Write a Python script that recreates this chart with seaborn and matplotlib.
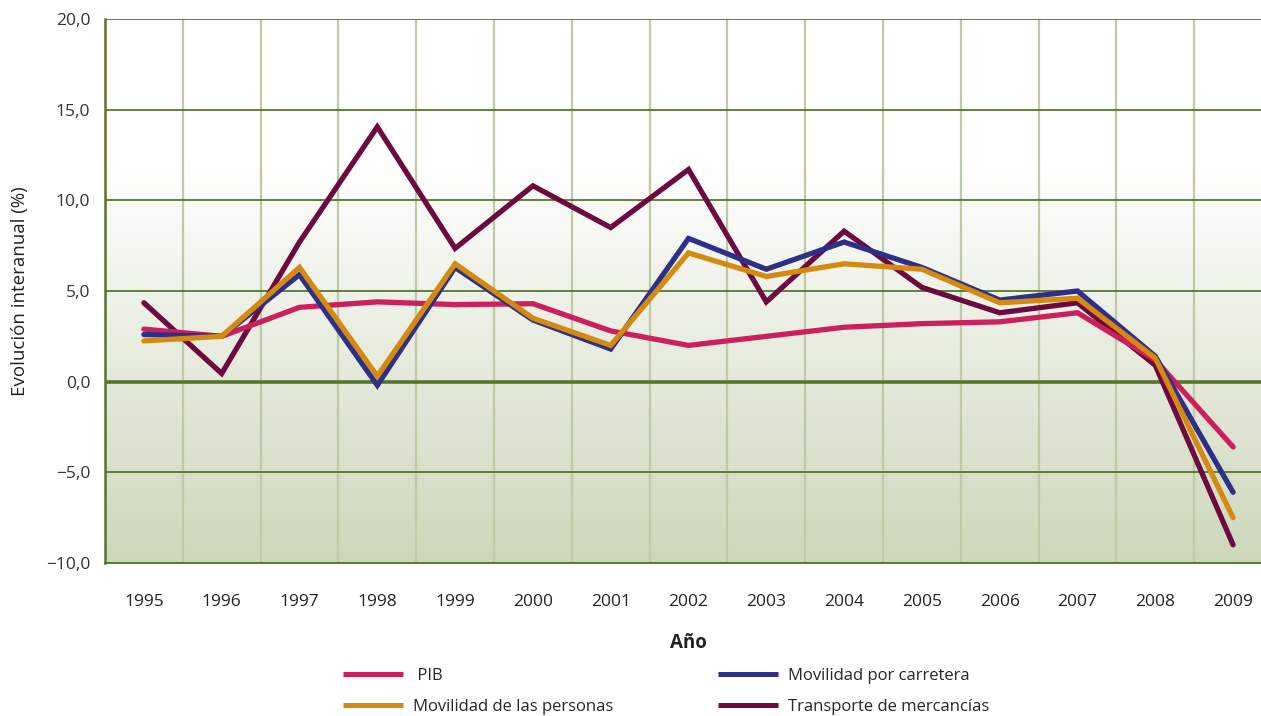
import numpy as np
import pandas as pd
import matplotlib
matplotlib.use("Agg")
import matplotlib.pyplot as plt
from matplotlib.colors import LinearSegmentedColormap
from matplotlib.ticker import FixedLocator, FuncFormatter
from matplotlib.lines import Line2D
import seaborn as sns

# -------------------
# Data
# -------------------
years = ["1995", "1996", "1997", "1998", "1999", "2000", "2001", "2002",
         "2003", "2004", "2005", "2006", "2007", "2008", "2009"]
pib = [2.9, 2.5, 4.1, 4.4, 4.25, 4.3, 2.8, 2.0, 2.5, 3.0, 3.2, 3.3, 3.8, 1.2, -3.6]
carretera = [2.6, 2.5, 5.9, -0.2, 6.3, 3.4, 1.8, 7.9, 6.2, 7.7, 6.3, 4.5, 5.0, 1.4, -6.1]
personas = [2.25, 2.5, 6.3, 0.3, 6.5, 3.5, 2.0, 7.1, 5.8, 6.5, 6.2, 4.35, 4.6, 1.3, -7.5]
mercancias = [4.35, 0.45, 7.7, 14.05, 7.35, 10.8, 8.5, 11.7, 4.4, 8.3, 5.2, 3.8, 4.35, 0.9, -9.0]

series = {
    "PIB": pib,
    "Movilidad por carretera": carretera,
    "Movilidad de las personas": personas,
    "Transporte de mercancías": mercancias,
}
colors = {
    "PIB": "#cc1f5c",
    "Movilidad por carretera": "#2e2f88",
    "Movilidad de las personas": "#d4890f",
    "Transporte de mercancías": "#6c0a40",
}

df = pd.DataFrame({"pos": np.arange(len(years))})
for k, v in series.items():
    df[k] = v

# -------------------
# Figure
# -------------------
sns.set_style("white")
plt.rcParams["font.family"] = ["Open Sans", "DejaVu Sans"]

fig = plt.figure(figsize=(12.61, 7.16), dpi=100)
ax = fig.add_axes([105 / 1261, 1 - 563 / 716, 1167 / 1261, 544 / 716])

ax.set_xlim(-0.5, len(years) - 0.5)
ax.set_ylim(-10, 20)

# background gradient
grad_cmap = LinearSegmentedColormap.from_list("bg", ["#ccd7bb", "#ffffff"])
yy = np.linspace(-10, 20, 300)
vals = np.clip((yy + 10) / 22.0, 0, 1)[:, None]
ax.imshow(vals, cmap=grad_cmap, aspect="auto", origin="lower",
          extent=[-0.5, len(years) - 0.5, -10, 20], zorder=0, vmin=0, vmax=1)

# grid
for b in np.arange(-0.5, len(years), 1.0):
    ax.axvline(b, color="#bccaa5", lw=1.6, zorder=1)
for yv in range(-10, 21, 5):
    ax.axhline(yv, color="#56752b", lw=2.6 if yv == 0 else 1.3, zorder=1)

# lines
zorders = {"Transporte de mercancías": 3, "PIB": 4,
           "Movilidad por carretera": 5, "Movilidad de las personas": 6}
for name in series:
    sns.lineplot(data=df, x="pos", y=name, color=colors[name], ax=ax,
                 lw=3.8, zorder=zorders[name], solid_capstyle="round",
                 solid_joinstyle="miter")

# axes styling
for s in ["top", "right"]:
    ax.spines[s].set_visible(False)
ax.spines["left"].set_color("#56752b")
ax.spines["left"].set_linewidth(1.8)
ax.spines["bottom"].set_color("#56752b")
ax.spines["bottom"].set_linewidth(1.3)

ax.yaxis.set_major_locator(FixedLocator(range(-10, 21, 5)))
ax.yaxis.set_major_formatter(FuncFormatter(
    lambda v, p: f"{v:.1f}".replace(".", ",").replace("-", "\u2212")))
ax.tick_params(axis="y", length=7.5, width=1.3, color="#56752b",
               labelsize=12.5, labelcolor="#333333", pad=3)

ax.set_xticks(np.arange(len(years)))
ax.set_xticklabels(years)
ax.set_xticks(np.arange(-0.5, len(years), 1.0), minor=True)
ax.tick_params(axis="x", which="major", length=0, labelsize=12.5,
               labelcolor="#222222", pad=22)
ax.tick_params(axis="x", which="minor", length=7.5, width=1.3, color="#56752b")

ax.set_xlabel("Año", fontsize=13.5, fontweight="bold", color="#222222", labelpad=17)
ax.set_ylabel("Evolución interanual (%)", fontsize=13.5, color="#222222", labelpad=12)

# legend
order = ["PIB", "Movilidad de las personas", "Movilidad por carretera",
         "Transporte de mercancías"]
handles = [Line2D([0], [0], color=colors[n], lw=3.6, solid_capstyle="butt") for n in order]
labels = [" PIB" if n == "PIB" else n for n in order]
fig.legend(handles, labels, loc="upper left", bbox_to_anchor=(328 / 1261, 1 - 653 / 716),
           ncol=2, frameon=False, fontsize=12, handlelength=3.6,
           columnspacing=6.3, labelspacing=0.9, handletextpad=0.6)

fig.savefig("out.png", dpi=100)
